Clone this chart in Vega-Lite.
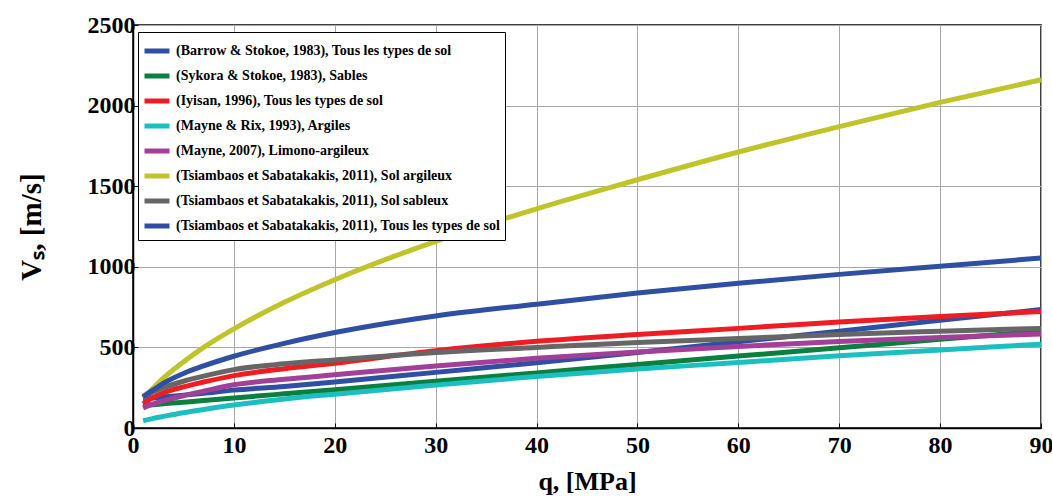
{
  "$schema": "https://vega.github.io/schema/vega-lite/v6.json",
  "width": 908,
  "height": 403,
  "autosize": "none",
  "padding": {"left": 133, "top": 25, "right": 11, "bottom": 71},
  "background": "white",
  "config": {
    "view": {"stroke": "black", "strokeWidth": 1.5},
    "font": "Liberation Serif, Times New Roman, serif",
    "axis": {
      "labelFont": "Liberation Serif, Times New Roman, serif",
      "labelFontWeight": "bold",
      "labelFontSize": 24,
      "labelColor": "black",
      "titleFont": "Liberation Serif, Times New Roman, serif",
      "titleFontWeight": "bold",
      "titleFontSize": 26,
      "titleColor": "black",
      "gridColor": "#a8a8a8",
      "gridWidth": 1,
      "domainColor": "black",
      "domainWidth": 1.5,
      "tickColor": "black",
      "tickSize": -5
    }
  },
  "data": {
    "values": [
      {"q": 1, "s": "A", "v": 180}, {"q": 2, "s": "A", "v": 186}, {"q": 3, "s": "A", "v": 192}, {"q": 5, "s": "A", "v": 204}, {"q": 7, "s": "A", "v": 216}, {"q": 10, "s": "A", "v": 235}, {"q": 15, "s": "A", "v": 258}, {"q": 20, "s": "A", "v": 285}, {"q": 30, "s": "A", "v": 345}, {"q": 40, "s": "A", "v": 405}, {"q": 50, "s": "A", "v": 468}, {"q": 60, "s": "A", "v": 535}, {"q": 70, "s": "A", "v": 600}, {"q": 80, "s": "A", "v": 668}, {"q": 90, "s": "A", "v": 735},
      {"q": 1, "s": "B", "v": 139}, {"q": 2, "s": "B", "v": 144}, {"q": 3, "s": "B", "v": 150}, {"q": 5, "s": "B", "v": 160}, {"q": 7, "s": "B", "v": 170}, {"q": 10, "s": "B", "v": 186}, {"q": 15, "s": "B", "v": 212}, {"q": 20, "s": "B", "v": 238}, {"q": 30, "s": "B", "v": 290}, {"q": 40, "s": "B", "v": 342}, {"q": 50, "s": "B", "v": 394}, {"q": 60, "s": "B", "v": 446}, {"q": 70, "s": "B", "v": 498}, {"q": 80, "s": "B", "v": 550}, {"q": 90, "s": "B", "v": 600},
      {"q": 1, "s": "C", "v": 150}, {"q": 2, "s": "C", "v": 190}, {"q": 3, "s": "C", "v": 218}, {"q": 5, "s": "C", "v": 255}, {"q": 7, "s": "C", "v": 285}, {"q": 10, "s": "C", "v": 325}, {"q": 15, "s": "C", "v": 368}, {"q": 20, "s": "C", "v": 402}, {"q": 30, "s": "C", "v": 480}, {"q": 40, "s": "C", "v": 538}, {"q": 50, "s": "C", "v": 580}, {"q": 60, "s": "C", "v": 618}, {"q": 70, "s": "C", "v": 658}, {"q": 80, "s": "C", "v": 692}, {"q": 90, "s": "C", "v": 722},
      {"q": 1, "s": "D", "v": 45}, {"q": 2, "s": "D", "v": 60}, {"q": 3, "s": "D", "v": 72}, {"q": 5, "s": "D", "v": 95}, {"q": 7, "s": "D", "v": 115}, {"q": 10, "s": "D", "v": 143}, {"q": 15, "s": "D", "v": 180}, {"q": 20, "s": "D", "v": 210}, {"q": 30, "s": "D", "v": 266}, {"q": 40, "s": "D", "v": 320}, {"q": 50, "s": "D", "v": 366}, {"q": 60, "s": "D", "v": 406}, {"q": 70, "s": "D", "v": 448}, {"q": 80, "s": "D", "v": 484}, {"q": 90, "s": "D", "v": 520},
      {"q": 1, "s": "E", "v": 125}, {"q": 2, "s": "E", "v": 150}, {"q": 3, "s": "E", "v": 168}, {"q": 5, "s": "E", "v": 200}, {"q": 7, "s": "E", "v": 228}, {"q": 10, "s": "E", "v": 268}, {"q": 15, "s": "E", "v": 302}, {"q": 20, "s": "E", "v": 330}, {"q": 30, "s": "E", "v": 385}, {"q": 40, "s": "E", "v": 433}, {"q": 50, "s": "E", "v": 472}, {"q": 60, "s": "E", "v": 505}, {"q": 70, "s": "E", "v": 537}, {"q": 80, "s": "E", "v": 561}, {"q": 90, "s": "E", "v": 583},
      {"q": 1, "s": "F", "v": 188}, {"q": 2, "s": "F", "v": 248}, {"q": 3, "s": "F", "v": 309}, {"q": 5, "s": "F", "v": 410}, {"q": 7, "s": "F", "v": 500}, {"q": 10, "s": "F", "v": 615}, {"q": 15, "s": "F", "v": 780}, {"q": 20, "s": "F", "v": 920}, {"q": 30, "s": "F", "v": 1158}, {"q": 40, "s": "F", "v": 1360}, {"q": 50, "s": "F", "v": 1540}, {"q": 60, "s": "F", "v": 1712}, {"q": 70, "s": "F", "v": 1870}, {"q": 80, "s": "F", "v": 2020}, {"q": 90, "s": "F", "v": 2160},
      {"q": 1, "s": "G", "v": 190}, {"q": 2, "s": "G", "v": 225}, {"q": 3, "s": "G", "v": 250}, {"q": 5, "s": "G", "v": 290}, {"q": 7, "s": "G", "v": 322}, {"q": 10, "s": "G", "v": 362}, {"q": 15, "s": "G", "v": 398}, {"q": 20, "s": "G", "v": 422}, {"q": 30, "s": "G", "v": 468}, {"q": 40, "s": "G", "v": 500}, {"q": 50, "s": "G", "v": 530}, {"q": 60, "s": "G", "v": 555}, {"q": 70, "s": "G", "v": 580}, {"q": 80, "s": "G", "v": 600}, {"q": 90, "s": "G", "v": 618},
      {"q": 1, "s": "H", "v": 195}, {"q": 2, "s": "H", "v": 236}, {"q": 3, "s": "H", "v": 277}, {"q": 5, "s": "H", "v": 338}, {"q": 7, "s": "H", "v": 385}, {"q": 10, "s": "H", "v": 445}, {"q": 15, "s": "H", "v": 525}, {"q": 20, "s": "H", "v": 592}, {"q": 30, "s": "H", "v": 695}, {"q": 40, "s": "H", "v": 768}, {"q": 50, "s": "H", "v": 837}, {"q": 60, "s": "H", "v": 898}, {"q": 70, "s": "H", "v": 953}, {"q": 80, "s": "H", "v": 1004}, {"q": 90, "s": "H", "v": 1054}
    ]
  },
  "mark": {"type": "line", "strokeWidth": 5, "interpolate": "monotone", "clip": true},
  "encoding": {
    "x": {
      "field": "q", "type": "quantitative",
      "scale": {"domain": [0, 90], "nice": false},
      "axis": {"values": [0, 10, 20, 30, 40, 50, 60, 70, 80, 90], "format": "d", "title": "q, [MPa]", "labelPadding": 10, "titlePadding": 11, "labelFlush": false}
    },
    "y": {
      "field": "v", "type": "quantitative",
      "scale": {"domain": [0, 2500], "nice": false},
      "axis": {"values": [0, 500, 1000, 1500, 2000, 2500], "format": "d", "title": "Vₛ, [m/s]", "titleFontSize": 29, "labelPadding": 3, "titlePadding": 41, "labelFlush": false}
    },
    "color": {
      "field": "s", "type": "nominal",
      "scale": {
        "domain": ["A", "B", "C", "D", "E", "F", "G", "H"],
        "range": ["#2f4fa2", "#0b7f3e", "#ee1d24", "#1bbfc0", "#a23f99", "#bfc42b", "#666666", "#2f4fa2"]
      },
      "legend": {
        "orient": "none", "legendX": 5, "legendY": 7,
        "title": null,
        "labelExpr": "['(Barrow & Stokoe, 1983), Tous les types de sol','(Sykora & Stokoe, 1983), Sables','(Iyisan, 1996), Tous les types de sol','(Mayne & Rix, 1993), Argiles','(Mayne, 2007), Limono-argileux','(Tsiambaos et Sabatakakis, 2011), Sol argileux','(Tsiambaos et Sabatakakis, 2011), Sol sableux','(Tsiambaos et Sabatakakis, 2011), Tous les types de sol'][indexof(['A','B','C','D','E','F','G','H'], datum.value)]",
        "labelFont": "Liberation Serif, Times New Roman, serif", "labelFontWeight": "bold", "labelFontSize": 14, "labelColor": "black",
        "labelLimit": 500, "labelOffset": 4,
        "symbolType": "stroke", "symbolStrokeWidth": 5, "symbolSize": 625,
        "rowPadding": 0,
        "strokeColor": "black", "fillColor": "white", "padding": 4, "cornerRadius": 0
      }
    },
    "order": {"field": "s"}
  }
}
